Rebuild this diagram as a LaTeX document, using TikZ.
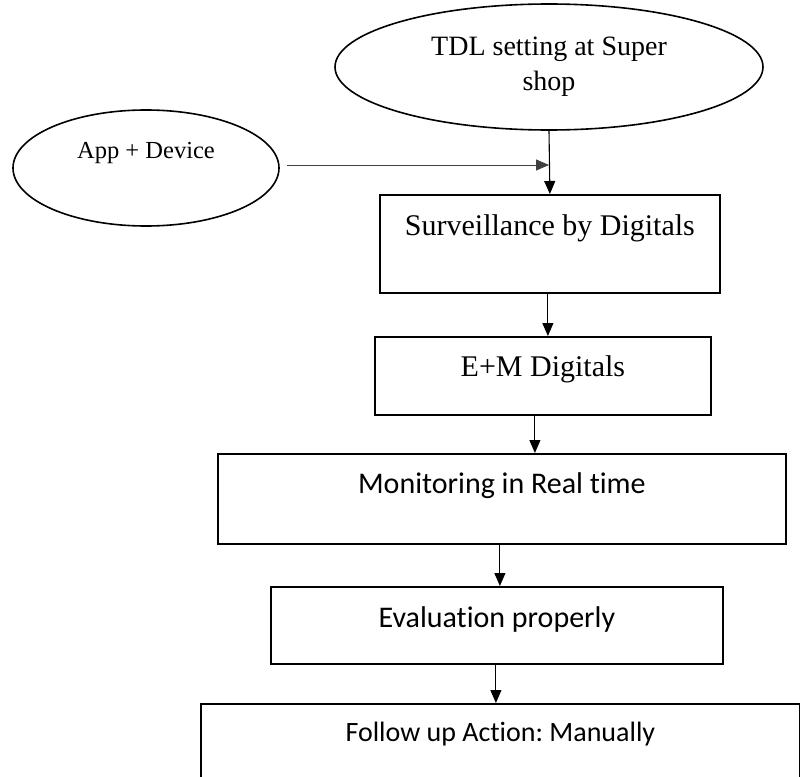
\documentclass[tikz,border=0pt]{standalone}
\usepackage{fontspec}
\setmainfont{Liberation Serif}
\newfontfamily\calibrifont[Ligatures=NoCommon]{Carlito}
\usetikzlibrary{shapes.geometric,arrows.meta}
\frenchspacing
\begin{document}
\begin{tikzpicture}[x=1pt,y=-1pt,
  boxnode/.style={draw,line width=1.8pt,rectangle,inner sep=0pt,anchor=north west},
  ovalnode/.style={draw,line width=1.6pt,ellipse,inner sep=0pt},
  serifbig/.style={font=\fontsize{30}{36}\selectfont},
  sansbig/.style={font=\calibrifont\fontsize{30}{36}\selectfont},
  arr/.style={line width=1.1pt,-{Triangle[length=13pt,width=11pt]}}]
\useasboundingbox[fill=white] (0,0) rectangle (800,776);

% ellipses
\node[ovalnode,minimum width=428pt,minimum height=126pt,align=center,
      font=\fontsize{28}{35}\selectfont] (tdl) at (549,67) {TDL setting at Super\\shop};
\node[ovalnode,minimum width=266pt,minimum height=116pt,text height=17pt,text depth=37pt,
      font=\fontsize{24.5}{30}\selectfont] (app) at (146,168) {App + Device};

% boxes
\node[boxnode,serifbig,minimum width=340pt,minimum height=98pt,text height=41pt,text depth=57pt]
  (surv) at (379,194) {Surveillance by Digitals};
\node[boxnode,serifbig,minimum width=336pt,minimum height=78pt,text height=40pt,text depth=38pt]
  (em) at (374,336) {E+M Digitals};
\node[boxnode,sansbig,minimum width=568pt,minimum height=90pt,text height=40pt,text depth=50pt]
  (mon) at (217,453) {Monitoring in Real time};
\node[boxnode,sansbig,minimum width=452pt,minimum height=77pt,text height=41pt,text depth=36pt]
  (eval) at (270,586) {Evaluation properly};
\node[boxnode,font=\calibrifont\fontsize{28}{34}\selectfont,minimum width=599pt,minimum height=75pt,
      text height=38pt,text depth=37pt]
  (follow) at (200,703) {Follow up Action: Manually};

% connectors
\coordinate (junction) at (549,165);
\draw[arr] (tdl.south) -- (surv.north);
\draw[arr,line width=0.9pt,black!75] ([shift={(7,-3)}]app.east) -- (junction);
\draw[arr] ([xshift=-2pt]surv.south) -- ([xshift=-2pt]surv.south |- em.north);
\draw[arr] ([xshift=-8pt]em.south) -- ([xshift=-8pt]em.south |- mon.north);
\draw[arr] ([xshift=-2pt]mon.south) -- ([xshift=-2pt]mon.south |- eval.north);
\draw[arr] ([xshift=-1pt]eval.south) -- ([xshift=-1pt]eval.south |- follow.north);
\end{tikzpicture}
\end{document}
